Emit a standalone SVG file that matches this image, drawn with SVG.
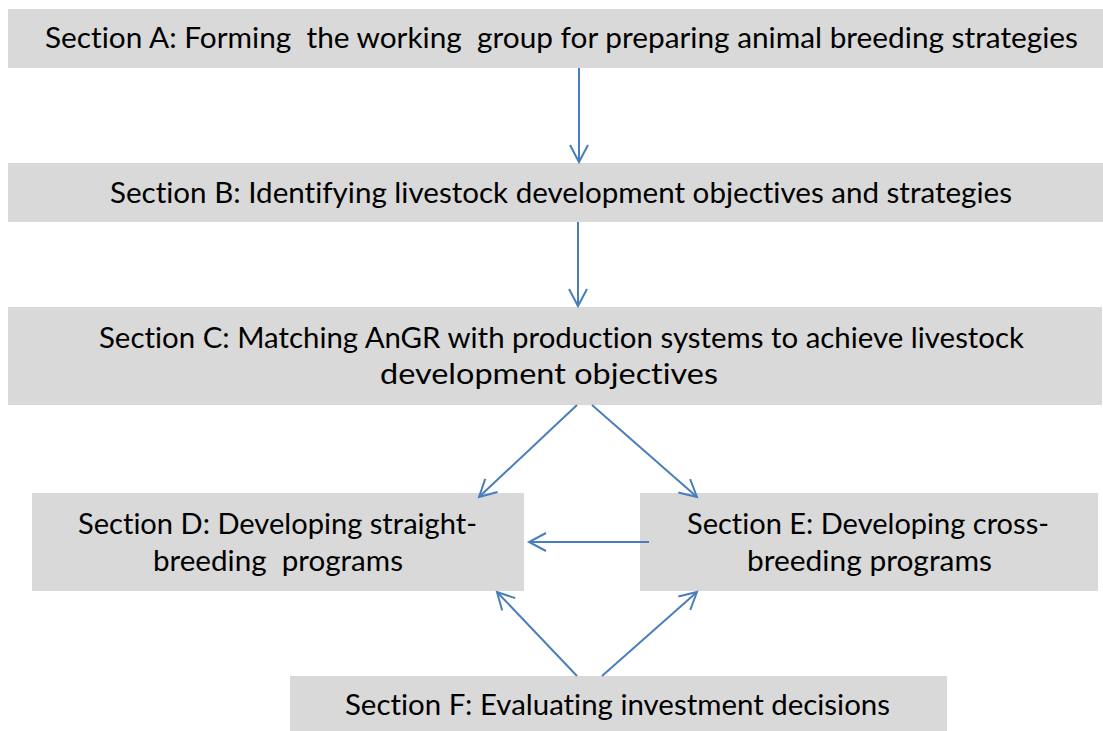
<svg xmlns="http://www.w3.org/2000/svg" width="1103" height="731" viewBox="0 0 1103 731">
  <style>
    .box { fill: #d9d9d9; }
    .label { font-family: Lato, "Open Sans", "Liberation Sans", sans-serif; font-size: 29px; fill: #000; white-space: pre; font-variant-ligatures: none; }
    .conn { stroke: #4a7ebb; stroke-width: 2; fill: none; marker-end: url(#open-arrow); }
  </style>
  <defs>
    <marker id="open-arrow" markerUnits="userSpaceOnUse" viewBox="-20 -12 24 24" refX="0" refY="0" markerWidth="24" markerHeight="24" orient="auto">
      <path d="M-17,-9 L0,0 L-17,9" fill="none" stroke="#4a7ebb" stroke-width="2"/>
    </marker>
  </defs>
  <rect width="1103" height="731" fill="#fff"/>

  <g id="section-a">
    <rect class="box" x="8" y="9" width="1095" height="59"/>
    <text class="label" x="45" y="48" textLength="1033" lengthAdjust="spacingAndGlyphs">Section A: Forming  the working  group for preparing animal breeding strategies</text>
  </g>

  <g id="section-b">
    <rect class="box" x="8" y="163" width="1095" height="59"/>
    <text class="label" x="110" y="203" textLength="902" lengthAdjust="spacingAndGlyphs">Section B: Identifying livestock development objectives and strategies</text>
  </g>

  <g id="section-c">
    <rect class="box" x="8" y="307" width="1094" height="98"/>
    <text class="label" x="99" y="348" textLength="925" lengthAdjust="spacingAndGlyphs">Section C: Matching AnGR with production systems to achieve livestock</text>
    <text class="label" x="380" y="384" textLength="338" lengthAdjust="spacingAndGlyphs">development objectives</text>
  </g>

  <g id="section-d">
    <rect class="box" x="32" y="493" width="492" height="98"/>
    <text class="label" x="78" y="534" textLength="399" lengthAdjust="spacingAndGlyphs">Section D: Developing straight-</text>
    <text class="label" x="153" y="571" textLength="250" lengthAdjust="spacingAndGlyphs">breeding  programs</text>
  </g>

  <g id="section-e">
    <rect class="box" x="640" y="493" width="458" height="98"/>
    <text class="label" x="687" y="534" textLength="362" lengthAdjust="spacingAndGlyphs">Section E: Developing cross-</text>
    <text class="label" x="747" y="571" textLength="245" lengthAdjust="spacingAndGlyphs">breeding programs</text>
  </g>

  <g id="section-f">
    <rect class="box" x="290" y="676" width="657" height="55"/>
    <text class="label" x="345" y="715" textLength="545" lengthAdjust="spacingAndGlyphs">Section F: Evaluating investment decisions</text>
  </g>

  <g id="connectors">
    <line class="conn" x1="579" y1="68" x2="579" y2="162"/>
    <line class="conn" x1="578" y1="222" x2="578" y2="306"/>
    <line class="conn" x1="577" y1="405" x2="479" y2="497"/>
    <line class="conn" x1="592" y1="405" x2="697" y2="497"/>
    <line class="conn" x1="649" y1="542" x2="529" y2="542"/>
    <line class="conn" x1="577" y1="676" x2="497" y2="592"/>
    <line class="conn" x1="602" y1="676" x2="697" y2="592"/>
  </g>
</svg>
